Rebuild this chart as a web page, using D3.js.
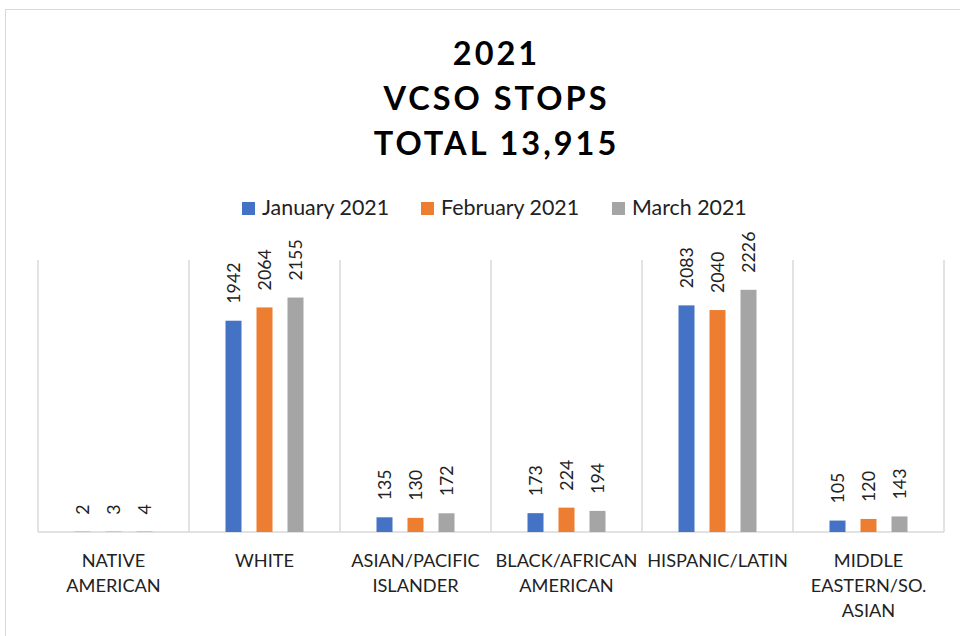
<!DOCTYPE html>
<html><head><meta charset="utf-8">
<script src="https://cdn.jsdelivr.net/npm/d3@7"></script>
<style>body{margin:0;background:#fff}svg{display:block}</style>
</head><body>
<script>
const categories = [["NATIVE","AMERICAN"],["WHITE"],["ASIAN/PACIFIC","ISLANDER"],["BLACK/AFRICAN","AMERICAN"],["HISPANIC/LATIN"],["MIDDLE","EASTERN/SO.","ASIAN"]];
const seriesNames = ["January 2021","February 2021","March 2021"];
const january = [2,1942,135,173,2083,105];
const february = [3,2064,130,224,2040,120];
const march = [4,2155,172,194,2226,143];
const titleLines = ["2021","VCSO STOPS","TOTAL 13,915"];
const colors = ["#4472C4","#ED7D31","#A5A5A5"];
const values = [january, february, march];

const W = 960, H = 636;
const font = "Lato, 'Open Sans', sans-serif";
const svg = d3.select("body").append("svg").attr("width", W).attr("height", H);
svg.append("rect").attr("x",5.5).attr("y",9.5).attr("width",W).attr("height",H)
  .attr("fill","#fff").attr("stroke","#d9d9d9").attr("stroke-width",1);

const x = d3.scaleBand().domain(d3.range(categories.length)).range([38, 944]).paddingInner(0).paddingOuter(0);
const y = d3.scaleLinear().domain([0, 2500]).range([532, 260]);
const groupW = 3*16 + 2*15;
const xsIn = d3.scaleBand().domain(d3.range(3)).range([(x.bandwidth()-groupW)/2, (x.bandwidth()+groupW)/2]).paddingInner(15/31).paddingOuter(0);

// gridlines (category separators)
const bounds = d3.range(categories.length+1).map(i => i < categories.length ? x(i) : x(categories.length-1)+x.bandwidth());
svg.append("g").selectAll("line").data(bounds).join("line")
  .attr("x1", d=>d).attr("x2", d=>d).attr("y1", y(2500)).attr("y2", y(0))
  .attr("stroke","#d9d9d9").attr("stroke-width",1.5);
svg.append("line").attr("x1",38).attr("x2",944).attr("y1",y(0)).attr("y2",y(0))
  .attr("stroke","#d9d9d9").attr("stroke-width",1.5);

// bars
values.forEach((vals, s) => {
  const g = svg.append("g");
  g.selectAll("rect").data(vals).join("rect")
    .attr("x", (d,i) => x(i) + xsIn(s))
    .attr("width", xsIn.bandwidth())
    .attr("y", d => y(d))
    .attr("height", d => y(0) - y(d))
    .attr("fill", colors[s]);
  g.selectAll("text").data(vals).join("text")
    .attr("transform", (d,i) => `translate(${x(i)+xsIn(s)+xsIn.bandwidth()/2+6.5},${y(d)-17}) rotate(-90)`)
    .attr("font-family", font).attr("font-size", 17.8).attr("fill","#222")
    .text(d => d);
});

// x labels
const xl = svg.append("g");
categories.forEach((lines, i) => {
  const t = xl.append("text").attr("text-anchor","middle")
    .attr("font-family", font).attr("font-size",18.2).attr("fill","#222");
  lines.forEach((ln, j) => t.append("tspan").attr("x", x(i)+x.bandwidth()/2).attr("y", 567 + j*25).text(ln));
});

// title
const ls = 3.0;
titleLines.forEach((ln, j) => svg.append("text").attr("x", 495 + ls/2).attr("y", 65 + j*45)
  .attr("text-anchor","middle").attr("font-family", font).attr("font-weight","bold")
  .attr("font-size", 32.5).attr("letter-spacing", ls + "px").attr("fill","#000").text(ln));

// legend
const legX = [242, 421, 612];
seriesNames.forEach((n, s) => {
  svg.append("rect").attr("x", legX[s]).attr("y", 202).attr("width",13).attr("height",13).attr("fill",colors[s]);
  svg.append("text").attr("x", legX[s]+20).attr("y", 215).attr("font-family", font)
    .attr("font-size",21.4).attr("fill","#222").text(n);
});
</script>
</body></html>
